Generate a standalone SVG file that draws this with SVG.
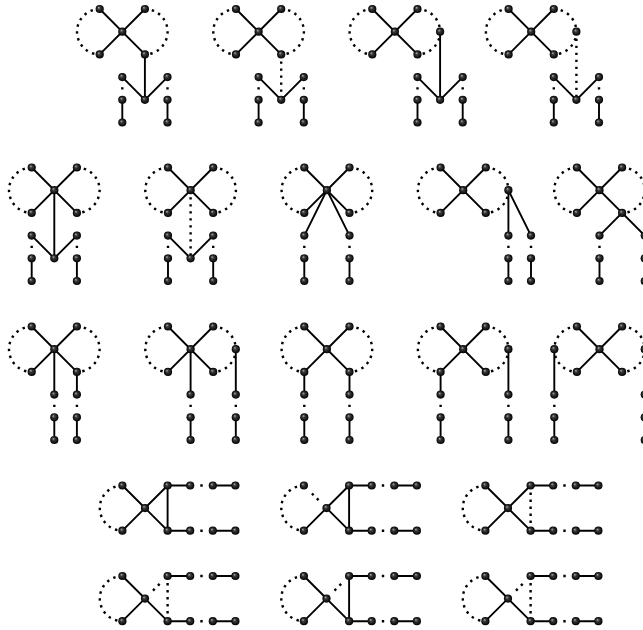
<svg xmlns="http://www.w3.org/2000/svg" width="643" height="630" viewBox="0 0 643 630">
<style>
.e{stroke:#000;stroke-width:1.9;fill:none}
.d{stroke:#000;stroke-width:2.4;stroke-dasharray:2.4 4.6;fill:none}
.ds{stroke:#000;stroke-width:2.4;stroke-dasharray:2.4 60;stroke-dashoffset:-10.1;fill:none}
.dg{stroke:#000;stroke-width:2.4;stroke-dasharray:2.4 4.6 2.4 60;stroke-dashoffset:-11.3;fill:none}
.n{fill:url(#ball)}
</style>
<defs>
<radialGradient id="ball" cx="0.5" cy="0.5" r="0.5" fx="0.36" fy="0.32">
<stop offset="0" stop-color="#b0b0b0"/>
<stop offset="0.35" stop-color="#3a3a3a"/>
<stop offset="1" stop-color="#000"/>
</radialGradient>
</defs>
<rect width="643" height="630" fill="#fff"/>

<!-- Row 1 Panel 1 -->
<g id="r1p1" transform="translate(122.3,31.7)">
<g id="r1p1-connectors">
<path class="d" d="M-22.6,-22.7 A22.7,22.7 0 0 0 -22.6,22.7"/>
<path class="d" d="M22.6,-22.7 A22.7,22.7 0 0 1 22.6,22.7"/>
<path class="e" d="M-22.6,-22.7 L22.6,22.7 M22.6,-22.7 L-22.6,22.7"/>
<path class="e" d="M22.6,22.7 V68.1 M0,45.4 L22.6,68.1 L45.2,45.4 M0,68.1 V90.8 M45.2,68.1 V90.8"/>
<path class="ds" d="M0,45.4 V68.1 M45.2,45.4 V68.1"/>
</g>
<g id="r1p1-c"><circle class="n" cx="0" cy="0" r="4.1"/></g>
<g id="r1p1-tl"><circle class="n" cx="-22.6" cy="-22.7" r="4.1"/></g>
<g id="r1p1-tr"><circle class="n" cx="22.6" cy="-22.7" r="4.1"/></g>
<g id="r1p1-bl"><circle class="n" cx="-22.6" cy="22.7" r="4.1"/></g>
<g id="r1p1-br"><circle class="n" cx="22.6" cy="22.7" r="4.1"/></g>
<g id="r1p1-m"><circle class="n" cx="22.6" cy="68.1" r="4.1"/></g>
<g id="r1p1-l1"><circle class="n" cx="0" cy="45.4" r="4.1"/></g>
<g id="r1p1-l2"><circle class="n" cx="0" cy="68.1" r="4.1"/></g>
<g id="r1p1-l3"><circle class="n" cx="0" cy="90.8" r="4.1"/></g>
<g id="r1p1-r1"><circle class="n" cx="45.2" cy="45.4" r="4.1"/></g>
<g id="r1p1-r2"><circle class="n" cx="45.2" cy="68.1" r="4.1"/></g>
<g id="r1p1-r3"><circle class="n" cx="45.2" cy="90.8" r="4.1"/></g>
</g>

<!-- Row 1 Panel 2 -->
<g id="r1p2" transform="translate(258.6,31.7)">
<g id="r1p2-connectors">
<path class="d" d="M-22.6,-22.7 A22.7,22.7 0 0 0 -22.6,22.7"/>
<path class="d" d="M22.6,-22.7 A22.7,22.7 0 0 1 22.6,22.7"/>
<path class="e" d="M-22.6,-22.7 L22.6,22.7 M22.6,-22.7 L-22.6,22.7"/>
<path class="d" d="M22.6,22.7 V68.1"/>
<path class="e" d="M0,45.4 L22.6,68.1 L45.2,45.4 M0,68.1 V90.8 M45.2,68.1 V90.8"/>
<path class="ds" d="M0,45.4 V68.1 M45.2,45.4 V68.1"/>
</g>
<g id="r1p2-c"><circle class="n" cx="0" cy="0" r="4.1"/></g>
<g id="r1p2-tl"><circle class="n" cx="-22.6" cy="-22.7" r="4.1"/></g>
<g id="r1p2-tr"><circle class="n" cx="22.6" cy="-22.7" r="4.1"/></g>
<g id="r1p2-bl"><circle class="n" cx="-22.6" cy="22.7" r="4.1"/></g>
<g id="r1p2-br"><circle class="n" cx="22.6" cy="22.7" r="4.1"/></g>
<g id="r1p2-m"><circle class="n" cx="22.6" cy="68.1" r="4.1"/></g>
<g id="r1p2-l1"><circle class="n" cx="0" cy="45.4" r="4.1"/></g>
<g id="r1p2-l2"><circle class="n" cx="0" cy="68.1" r="4.1"/></g>
<g id="r1p2-l3"><circle class="n" cx="0" cy="90.8" r="4.1"/></g>
<g id="r1p2-r1"><circle class="n" cx="45.2" cy="45.4" r="4.1"/></g>
<g id="r1p2-r2"><circle class="n" cx="45.2" cy="68.1" r="4.1"/></g>
<g id="r1p2-r3"><circle class="n" cx="45.2" cy="90.8" r="4.1"/></g>
</g>

<!-- Row 1 Panel 3 -->
<g id="r1p3" transform="translate(394.9,31.7)">
<g id="r1p3-connectors">
<path class="d" d="M-22.6,-22.7 A22.7,22.7 0 0 0 -22.6,22.7"/>
<path class="d" d="M22.6,-22.7 A22.7,22.7 0 0 1 45.2,0 A22.7,22.7 0 0 1 22.6,22.7"/>
<path class="e" d="M-22.6,-22.7 L22.6,22.7 M22.6,-22.7 L-22.6,22.7"/>
<path class="e" d="M45.2,0 V68.1 M22.6,45.4 L45.2,68.1 L67.8,45.4 M22.6,68.1 V90.8 M67.8,68.1 V90.8"/>
<path class="ds" d="M22.6,45.4 V68.1 M67.8,45.4 V68.1"/>
</g>
<g id="r1p3-c"><circle class="n" cx="0" cy="0" r="4.1"/></g>
<g id="r1p3-tl"><circle class="n" cx="-22.6" cy="-22.7" r="4.1"/></g>
<g id="r1p3-tr"><circle class="n" cx="22.6" cy="-22.7" r="4.1"/></g>
<g id="r1p3-bl"><circle class="n" cx="-22.6" cy="22.7" r="4.1"/></g>
<g id="r1p3-br"><circle class="n" cx="22.6" cy="22.7" r="4.1"/></g>
<g id="r1p3-x"><circle class="n" cx="45.2" cy="0" r="4.1"/></g>
<g id="r1p3-m"><circle class="n" cx="45.2" cy="68.1" r="4.1"/></g>
<g id="r1p3-l1"><circle class="n" cx="22.6" cy="45.4" r="4.1"/></g>
<g id="r1p3-l2"><circle class="n" cx="22.6" cy="68.1" r="4.1"/></g>
<g id="r1p3-l3"><circle class="n" cx="22.6" cy="90.8" r="4.1"/></g>
<g id="r1p3-r1"><circle class="n" cx="67.8" cy="45.4" r="4.1"/></g>
<g id="r1p3-r2"><circle class="n" cx="67.8" cy="68.1" r="4.1"/></g>
<g id="r1p3-r3"><circle class="n" cx="67.8" cy="90.8" r="4.1"/></g>
</g>

<!-- Row 1 Panel 4 -->
<g id="r1p4" transform="translate(531.2,31.7)">
<g id="r1p4-connectors">
<path class="d" d="M-22.6,-22.7 A22.7,22.7 0 0 0 -22.6,22.7"/>
<path class="d" d="M22.6,-22.7 A22.7,22.7 0 0 1 45.2,0 A22.7,22.7 0 0 1 22.6,22.7"/>
<path class="e" d="M-22.6,-22.7 L22.6,22.7 M22.6,-22.7 L-22.6,22.7"/>
<path class="d" d="M45.2,0 V68.1"/>
<path class="e" d="M22.6,45.4 L45.2,68.1 L67.8,45.4 M22.6,68.1 V90.8 M67.8,68.1 V90.8"/>
<path class="ds" d="M22.6,45.4 V68.1 M67.8,45.4 V68.1"/>
</g>
<g id="r1p4-c"><circle class="n" cx="0" cy="0" r="4.1"/></g>
<g id="r1p4-tl"><circle class="n" cx="-22.6" cy="-22.7" r="4.1"/></g>
<g id="r1p4-tr"><circle class="n" cx="22.6" cy="-22.7" r="4.1"/></g>
<g id="r1p4-bl"><circle class="n" cx="-22.6" cy="22.7" r="4.1"/></g>
<g id="r1p4-br"><circle class="n" cx="22.6" cy="22.7" r="4.1"/></g>
<g id="r1p4-x"><circle class="n" cx="45.2" cy="0" r="4.1"/></g>
<g id="r1p4-m"><circle class="n" cx="45.2" cy="68.1" r="4.1"/></g>
<g id="r1p4-l1"><circle class="n" cx="22.6" cy="45.4" r="4.1"/></g>
<g id="r1p4-l2"><circle class="n" cx="22.6" cy="68.1" r="4.1"/></g>
<g id="r1p4-l3"><circle class="n" cx="22.6" cy="90.8" r="4.1"/></g>
<g id="r1p4-r1"><circle class="n" cx="67.8" cy="45.4" r="4.1"/></g>
<g id="r1p4-r2"><circle class="n" cx="67.8" cy="68.1" r="4.1"/></g>
<g id="r1p4-r3"><circle class="n" cx="67.8" cy="90.8" r="4.1"/></g>
</g>

<!-- Row 2 Panel 1 -->
<g id="r2p1" transform="translate(54.3,190.2)">
<g id="r2p1-connectors">
<path class="d" d="M-22.6,-22.7 A22.7,22.7 0 0 0 -22.6,22.7"/>
<path class="d" d="M22.6,-22.7 A22.7,22.7 0 0 1 22.6,22.7"/>
<path class="e" d="M-22.6,-22.7 L22.6,22.7 M22.6,-22.7 L-22.6,22.7"/>
<path class="e" d="M0,0 V68.1 M-22.6,45.4 L0,68.1 L22.6,45.4 M-22.6,68.1 V90.8 M22.6,68.1 V90.8"/>
<path class="ds" d="M-22.6,45.4 V68.1 M22.6,45.4 V68.1"/>
</g>
<g id="r2p1-c"><circle class="n" cx="0" cy="0" r="4.1"/></g>
<g id="r2p1-tl"><circle class="n" cx="-22.6" cy="-22.7" r="4.1"/></g>
<g id="r2p1-tr"><circle class="n" cx="22.6" cy="-22.7" r="4.1"/></g>
<g id="r2p1-bl"><circle class="n" cx="-22.6" cy="22.7" r="4.1"/></g>
<g id="r2p1-br"><circle class="n" cx="22.6" cy="22.7" r="4.1"/></g>
<g id="r2p1-m"><circle class="n" cx="0" cy="68.1" r="4.1"/></g>
<g id="r2p1-l1"><circle class="n" cx="-22.6" cy="45.4" r="4.1"/></g>
<g id="r2p1-l2"><circle class="n" cx="-22.6" cy="68.1" r="4.1"/></g>
<g id="r2p1-l3"><circle class="n" cx="-22.6" cy="90.8" r="4.1"/></g>
<g id="r2p1-r1"><circle class="n" cx="22.6" cy="45.4" r="4.1"/></g>
<g id="r2p1-r2"><circle class="n" cx="22.6" cy="68.1" r="4.1"/></g>
<g id="r2p1-r3"><circle class="n" cx="22.6" cy="90.8" r="4.1"/></g>
</g>

<!-- Row 2 Panel 2 -->
<g id="r2p2" transform="translate(190.6,190.2)">
<g id="r2p2-connectors">
<path class="d" d="M-22.6,-22.7 A22.7,22.7 0 0 0 -22.6,22.7"/>
<path class="d" d="M22.6,-22.7 A22.7,22.7 0 0 1 22.6,22.7"/>
<path class="e" d="M-22.6,-22.7 L22.6,22.7 M22.6,-22.7 L-22.6,22.7"/>
<path class="d" d="M0,0 V68.1"/>
<path class="e" d="M-22.6,45.4 L0,68.1 L22.6,45.4 M-22.6,68.1 V90.8 M22.6,68.1 V90.8"/>
<path class="ds" d="M-22.6,45.4 V68.1 M22.6,45.4 V68.1"/>
</g>
<g id="r2p2-c"><circle class="n" cx="0" cy="0" r="4.1"/></g>
<g id="r2p2-tl"><circle class="n" cx="-22.6" cy="-22.7" r="4.1"/></g>
<g id="r2p2-tr"><circle class="n" cx="22.6" cy="-22.7" r="4.1"/></g>
<g id="r2p2-bl"><circle class="n" cx="-22.6" cy="22.7" r="4.1"/></g>
<g id="r2p2-br"><circle class="n" cx="22.6" cy="22.7" r="4.1"/></g>
<g id="r2p2-m"><circle class="n" cx="0" cy="68.1" r="4.1"/></g>
<g id="r2p2-l1"><circle class="n" cx="-22.6" cy="45.4" r="4.1"/></g>
<g id="r2p2-l2"><circle class="n" cx="-22.6" cy="68.1" r="4.1"/></g>
<g id="r2p2-l3"><circle class="n" cx="-22.6" cy="90.8" r="4.1"/></g>
<g id="r2p2-r1"><circle class="n" cx="22.6" cy="45.4" r="4.1"/></g>
<g id="r2p2-r2"><circle class="n" cx="22.6" cy="68.1" r="4.1"/></g>
<g id="r2p2-r3"><circle class="n" cx="22.6" cy="90.8" r="4.1"/></g>
</g>

<!-- Row 2 Panel 3 -->
<g id="r2p3" transform="translate(326.9,190.2)">
<g id="r2p3-connectors">
<path class="d" d="M-22.6,-22.7 A22.7,22.7 0 0 0 -22.6,22.7"/>
<path class="d" d="M22.6,-22.7 A22.7,22.7 0 0 1 22.6,22.7"/>
<path class="e" d="M-22.6,-22.7 L22.6,22.7 M22.6,-22.7 L-22.6,22.7"/>
<path class="e" d="M-22.6,45.4 L0,0 L22.6,45.4 M-22.6,68.1 V90.8 M22.6,68.1 V90.8"/>
<path class="ds" d="M-22.6,45.4 V68.1 M22.6,45.4 V68.1"/>
</g>
<g id="r2p3-c"><circle class="n" cx="0" cy="0" r="4.1"/></g>
<g id="r2p3-tl"><circle class="n" cx="-22.6" cy="-22.7" r="4.1"/></g>
<g id="r2p3-tr"><circle class="n" cx="22.6" cy="-22.7" r="4.1"/></g>
<g id="r2p3-bl"><circle class="n" cx="-22.6" cy="22.7" r="4.1"/></g>
<g id="r2p3-br"><circle class="n" cx="22.6" cy="22.7" r="4.1"/></g>
<g id="r2p3-l1"><circle class="n" cx="-22.6" cy="45.4" r="4.1"/></g>
<g id="r2p3-l2"><circle class="n" cx="-22.6" cy="68.1" r="4.1"/></g>
<g id="r2p3-l3"><circle class="n" cx="-22.6" cy="90.8" r="4.1"/></g>
<g id="r2p3-r1"><circle class="n" cx="22.6" cy="45.4" r="4.1"/></g>
<g id="r2p3-r2"><circle class="n" cx="22.6" cy="68.1" r="4.1"/></g>
<g id="r2p3-r3"><circle class="n" cx="22.6" cy="90.8" r="4.1"/></g>
</g>

<!-- Row 2 Panel 4 -->
<g id="r2p4" transform="translate(463.2,190.2)">
<g id="r2p4-connectors">
<path class="d" d="M-22.6,-22.7 A22.7,22.7 0 0 0 -22.6,22.7"/>
<path class="d" d="M22.6,-22.7 A22.7,22.7 0 0 1 45.2,0 A22.7,22.7 0 0 1 22.6,22.7"/>
<path class="e" d="M-22.6,-22.7 L22.6,22.7 M22.6,-22.7 L-22.6,22.7"/>
<path class="e" d="M45.2,45.4 V0 L67.8,45.4 M45.2,68.1 V90.8 M67.8,68.1 V90.8"/>
<path class="ds" d="M45.2,45.4 V68.1 M67.8,45.4 V68.1"/>
</g>
<g id="r2p4-c"><circle class="n" cx="0" cy="0" r="4.1"/></g>
<g id="r2p4-tl"><circle class="n" cx="-22.6" cy="-22.7" r="4.1"/></g>
<g id="r2p4-tr"><circle class="n" cx="22.6" cy="-22.7" r="4.1"/></g>
<g id="r2p4-bl"><circle class="n" cx="-22.6" cy="22.7" r="4.1"/></g>
<g id="r2p4-br"><circle class="n" cx="22.6" cy="22.7" r="4.1"/></g>
<g id="r2p4-x"><circle class="n" cx="45.2" cy="0" r="4.1"/></g>
<g id="r2p4-l1"><circle class="n" cx="45.2" cy="45.4" r="4.1"/></g>
<g id="r2p4-l2"><circle class="n" cx="45.2" cy="68.1" r="4.1"/></g>
<g id="r2p4-l3"><circle class="n" cx="45.2" cy="90.8" r="4.1"/></g>
<g id="r2p4-r1"><circle class="n" cx="67.8" cy="45.4" r="4.1"/></g>
<g id="r2p4-r2"><circle class="n" cx="67.8" cy="68.1" r="4.1"/></g>
<g id="r2p4-r3"><circle class="n" cx="67.8" cy="90.8" r="4.1"/></g>
</g>

<!-- Row 2 Panel 5 -->
<g id="r2p5" transform="translate(599.5,190.2)">
<g id="r2p5-connectors">
<path class="d" d="M-22.6,-22.7 A22.7,22.7 0 0 0 -22.6,22.7"/>
<path class="d" d="M22.6,-22.7 A22.7,22.7 0 0 1 22.6,22.7"/>
<path class="e" d="M-22.6,-22.7 L22.6,22.7 M22.6,-22.7 L-22.6,22.7"/>
<path class="e" d="M0,45.4 L22.6,22.7 L45.2,45.4 M0,68.1 V90.8 M45.2,68.1 V90.8"/>
<path class="ds" d="M0,45.4 V68.1 M45.2,45.4 V68.1"/>
</g>
<g id="r2p5-c"><circle class="n" cx="0" cy="0" r="4.1"/></g>
<g id="r2p5-tl"><circle class="n" cx="-22.6" cy="-22.7" r="4.1"/></g>
<g id="r2p5-tr"><circle class="n" cx="22.6" cy="-22.7" r="4.1"/></g>
<g id="r2p5-bl"><circle class="n" cx="-22.6" cy="22.7" r="4.1"/></g>
<g id="r2p5-br"><circle class="n" cx="22.6" cy="22.7" r="4.1"/></g>
<g id="r2p5-l1"><circle class="n" cx="0" cy="45.4" r="4.1"/></g>
<g id="r2p5-l2"><circle class="n" cx="0" cy="68.1" r="4.1"/></g>
<g id="r2p5-l3"><circle class="n" cx="0" cy="90.8" r="4.1"/></g>
<g id="r2p5-r1"><circle class="n" cx="45.2" cy="45.4" r="4.1"/></g>
<g id="r2p5-r2"><circle class="n" cx="45.2" cy="68.1" r="4.1"/></g>
<g id="r2p5-r3"><circle class="n" cx="45.2" cy="90.8" r="4.1"/></g>
</g>

<!-- Row 3 Panel 1 -->
<g id="r3p1" transform="translate(54.3,349.2)">
<g id="r3p1-connectors">
<path class="d" d="M-22.6,-22.7 A22.7,22.7 0 0 0 -22.6,22.7"/>
<path class="d" d="M22.6,-22.7 A22.7,22.7 0 0 1 22.6,22.7"/>
<path class="e" d="M-22.6,-22.7 L22.6,22.7 M22.6,-22.7 L-22.6,22.7"/>
<path class="e" d="M0,0 V45.4 M22.6,22.7 V45.4 M0,68.1 V90.8 M22.6,68.1 V90.8"/>
<path class="ds" d="M0,45.4 V68.1 M22.6,45.4 V68.1"/>
</g>
<g id="r3p1-c"><circle class="n" cx="0" cy="0" r="4.1"/></g>
<g id="r3p1-tl"><circle class="n" cx="-22.6" cy="-22.7" r="4.1"/></g>
<g id="r3p1-tr"><circle class="n" cx="22.6" cy="-22.7" r="4.1"/></g>
<g id="r3p1-bl"><circle class="n" cx="-22.6" cy="22.7" r="4.1"/></g>
<g id="r3p1-br"><circle class="n" cx="22.6" cy="22.7" r="4.1"/></g>
<g id="r3p1-l1"><circle class="n" cx="0" cy="45.4" r="4.1"/></g>
<g id="r3p1-l2"><circle class="n" cx="0" cy="68.1" r="4.1"/></g>
<g id="r3p1-l3"><circle class="n" cx="0" cy="90.8" r="4.1"/></g>
<g id="r3p1-r1"><circle class="n" cx="22.6" cy="45.4" r="4.1"/></g>
<g id="r3p1-r2"><circle class="n" cx="22.6" cy="68.1" r="4.1"/></g>
<g id="r3p1-r3"><circle class="n" cx="22.6" cy="90.8" r="4.1"/></g>
</g>

<!-- Row 3 Panel 2 -->
<g id="r3p2" transform="translate(190.6,349.2)">
<g id="r3p2-connectors">
<path class="d" d="M-22.6,-22.7 A22.7,22.7 0 0 0 -22.6,22.7"/>
<path class="d" d="M22.6,-22.7 A22.7,22.7 0 0 1 45.2,0 A22.7,22.7 0 0 1 22.6,22.7"/>
<path class="e" d="M-22.6,-22.7 L22.6,22.7 M22.6,-22.7 L-22.6,22.7"/>
<path class="e" d="M0,0 V45.4 M45.2,0 V45.4 M0,68.1 V90.8 M45.2,68.1 V90.8"/>
<path class="ds" d="M0,45.4 V68.1 M45.2,45.4 V68.1"/>
</g>
<g id="r3p2-c"><circle class="n" cx="0" cy="0" r="4.1"/></g>
<g id="r3p2-tl"><circle class="n" cx="-22.6" cy="-22.7" r="4.1"/></g>
<g id="r3p2-tr"><circle class="n" cx="22.6" cy="-22.7" r="4.1"/></g>
<g id="r3p2-bl"><circle class="n" cx="-22.6" cy="22.7" r="4.1"/></g>
<g id="r3p2-br"><circle class="n" cx="22.6" cy="22.7" r="4.1"/></g>
<g id="r3p2-x"><circle class="n" cx="45.2" cy="0" r="4.1"/></g>
<g id="r3p2-l1"><circle class="n" cx="0" cy="45.4" r="4.1"/></g>
<g id="r3p2-l2"><circle class="n" cx="0" cy="68.1" r="4.1"/></g>
<g id="r3p2-l3"><circle class="n" cx="0" cy="90.8" r="4.1"/></g>
<g id="r3p2-r1"><circle class="n" cx="45.2" cy="45.4" r="4.1"/></g>
<g id="r3p2-r2"><circle class="n" cx="45.2" cy="68.1" r="4.1"/></g>
<g id="r3p2-r3"><circle class="n" cx="45.2" cy="90.8" r="4.1"/></g>
</g>

<!-- Row 3 Panel 3 -->
<g id="r3p3" transform="translate(326.9,349.2)">
<g id="r3p3-connectors">
<path class="d" d="M-22.6,-22.7 A22.7,22.7 0 0 0 -22.6,22.7"/>
<path class="d" d="M22.6,-22.7 A22.7,22.7 0 0 1 22.6,22.7"/>
<path class="e" d="M-22.6,-22.7 L22.6,22.7 M22.6,-22.7 L-22.6,22.7"/>
<path class="e" d="M-22.6,22.7 V45.4 M22.6,22.7 V45.4 M-22.6,68.1 V90.8 M22.6,68.1 V90.8"/>
<path class="ds" d="M-22.6,45.4 V68.1 M22.6,45.4 V68.1"/>
</g>
<g id="r3p3-c"><circle class="n" cx="0" cy="0" r="4.1"/></g>
<g id="r3p3-tl"><circle class="n" cx="-22.6" cy="-22.7" r="4.1"/></g>
<g id="r3p3-tr"><circle class="n" cx="22.6" cy="-22.7" r="4.1"/></g>
<g id="r3p3-bl"><circle class="n" cx="-22.6" cy="22.7" r="4.1"/></g>
<g id="r3p3-br"><circle class="n" cx="22.6" cy="22.7" r="4.1"/></g>
<g id="r3p3-l1"><circle class="n" cx="-22.6" cy="45.4" r="4.1"/></g>
<g id="r3p3-l2"><circle class="n" cx="-22.6" cy="68.1" r="4.1"/></g>
<g id="r3p3-l3"><circle class="n" cx="-22.6" cy="90.8" r="4.1"/></g>
<g id="r3p3-r1"><circle class="n" cx="22.6" cy="45.4" r="4.1"/></g>
<g id="r3p3-r2"><circle class="n" cx="22.6" cy="68.1" r="4.1"/></g>
<g id="r3p3-r3"><circle class="n" cx="22.6" cy="90.8" r="4.1"/></g>
</g>

<!-- Row 3 Panel 4 -->
<g id="r3p4" transform="translate(463.2,349.2)">
<g id="r3p4-connectors">
<path class="d" d="M-22.6,-22.7 A22.7,22.7 0 0 0 -22.6,22.7"/>
<path class="d" d="M22.6,-22.7 A22.7,22.7 0 0 1 45.2,0 A22.7,22.7 0 0 1 22.6,22.7"/>
<path class="e" d="M-22.6,-22.7 L22.6,22.7 M22.6,-22.7 L-22.6,22.7"/>
<path class="e" d="M-22.6,22.7 V45.4 M45.2,0 V45.4 M-22.6,68.1 V90.8 M45.2,68.1 V90.8"/>
<path class="ds" d="M-22.6,45.4 V68.1 M45.2,45.4 V68.1"/>
</g>
<g id="r3p4-c"><circle class="n" cx="0" cy="0" r="4.1"/></g>
<g id="r3p4-tl"><circle class="n" cx="-22.6" cy="-22.7" r="4.1"/></g>
<g id="r3p4-tr"><circle class="n" cx="22.6" cy="-22.7" r="4.1"/></g>
<g id="r3p4-bl"><circle class="n" cx="-22.6" cy="22.7" r="4.1"/></g>
<g id="r3p4-br"><circle class="n" cx="22.6" cy="22.7" r="4.1"/></g>
<g id="r3p4-x"><circle class="n" cx="45.2" cy="0" r="4.1"/></g>
<g id="r3p4-l1"><circle class="n" cx="-22.6" cy="45.4" r="4.1"/></g>
<g id="r3p4-l2"><circle class="n" cx="-22.6" cy="68.1" r="4.1"/></g>
<g id="r3p4-l3"><circle class="n" cx="-22.6" cy="90.8" r="4.1"/></g>
<g id="r3p4-r1"><circle class="n" cx="45.2" cy="45.4" r="4.1"/></g>
<g id="r3p4-r2"><circle class="n" cx="45.2" cy="68.1" r="4.1"/></g>
<g id="r3p4-r3"><circle class="n" cx="45.2" cy="90.8" r="4.1"/></g>
</g>

<!-- Row 3 Panel 5 -->
<g id="r3p5" transform="translate(599.5,349.2)">
<g id="r3p5-connectors">
<path class="d" d="M-22.6,-22.7 A22.7,22.7 0 0 0 -45.2,0 A22.7,22.7 0 0 0 -22.6,22.7"/>
<path class="d" d="M22.6,-22.7 A22.7,22.7 0 0 1 45.2,0 A22.7,22.7 0 0 1 22.6,22.7"/>
<path class="e" d="M-22.6,-22.7 L22.6,22.7 M22.6,-22.7 L-22.6,22.7"/>
<path class="e" d="M-45.2,0 V45.4 M45.2,0 V45.4 M-45.2,68.1 V90.8 M45.2,68.1 V90.8"/>
<path class="ds" d="M-45.2,45.4 V68.1 M45.2,45.4 V68.1"/>
</g>
<g id="r3p5-c"><circle class="n" cx="0" cy="0" r="4.1"/></g>
<g id="r3p5-tl"><circle class="n" cx="-22.6" cy="-22.7" r="4.1"/></g>
<g id="r3p5-tr"><circle class="n" cx="22.6" cy="-22.7" r="4.1"/></g>
<g id="r3p5-bl"><circle class="n" cx="-22.6" cy="22.7" r="4.1"/></g>
<g id="r3p5-br"><circle class="n" cx="22.6" cy="22.7" r="4.1"/></g>
<g id="r3p5-xl"><circle class="n" cx="-45.2" cy="0" r="4.1"/></g>
<g id="r3p5-xr"><circle class="n" cx="45.2" cy="0" r="4.1"/></g>
<g id="r3p5-l1"><circle class="n" cx="-45.2" cy="45.4" r="4.1"/></g>
<g id="r3p5-l2"><circle class="n" cx="-45.2" cy="68.1" r="4.1"/></g>
<g id="r3p5-l3"><circle class="n" cx="-45.2" cy="90.8" r="4.1"/></g>
<g id="r3p5-r1"><circle class="n" cx="45.2" cy="45.4" r="4.1"/></g>
<g id="r3p5-r2"><circle class="n" cx="45.2" cy="68.1" r="4.1"/></g>
<g id="r3p5-r3"><circle class="n" cx="45.2" cy="90.8" r="4.1"/></g>
</g>

<!-- Row 4 Panel 1 -->
<g id="r4p1" transform="translate(145,508.1)">
<g id="r4p1-connectors">
<path class="d" d="M-22.6,-22.6 A22.6,22.6 0 0 0 -22.6,22.6"/>
<path class="e" d="M-22.6,-22.6 L0,0 L-22.6,22.6 M22.6,-22.6 L0,0 L22.6,22.6 M22.6,-22.6 V22.6"/>
<path class="e" d="M22.6,-22.6 H45.2 M22.6,22.6 H45.2"/>
<path class="ds" d="M45.2,-22.6 H67.8 M45.2,22.6 H67.8"/>
<path class="e" d="M67.8,-22.6 H90.4 M67.8,22.6 H90.4"/>
</g>
<g id="r4p1-c"><circle class="n" cx="0" cy="0" r="4.1"/></g>
<g id="r4p1-tl"><circle class="n" cx="-22.6" cy="-22.6" r="4.1"/></g>
<g id="r4p1-bl"><circle class="n" cx="-22.6" cy="22.6" r="4.1"/></g>
<g id="r4p1-t1"><circle class="n" cx="22.6" cy="-22.6" r="4.1"/></g>
<g id="r4p1-t2"><circle class="n" cx="45.2" cy="-22.6" r="4.1"/></g>
<g id="r4p1-t3"><circle class="n" cx="67.8" cy="-22.6" r="4.1"/></g>
<g id="r4p1-t4"><circle class="n" cx="90.4" cy="-22.6" r="4.1"/></g>
<g id="r4p1-b1"><circle class="n" cx="22.6" cy="22.6" r="4.1"/></g>
<g id="r4p1-b2"><circle class="n" cx="45.2" cy="22.6" r="4.1"/></g>
<g id="r4p1-b3"><circle class="n" cx="67.8" cy="22.6" r="4.1"/></g>
<g id="r4p1-b4"><circle class="n" cx="90.4" cy="22.6" r="4.1"/></g>
</g>

<!-- Row 4 Panel 2 -->
<g id="r4p2" transform="translate(326.5,508.1)">
<g id="r4p2-connectors">
<path class="d" d="M-22.6,-22.6 A22.6,22.6 0 0 0 -22.6,22.6"/>
<path class="dg" d="M-22.6,-22.6 L0,0"/>
<path class="e" d="M0,0 L-22.6,22.6 M22.6,-22.6 L0,0 L22.6,22.6 M22.6,-22.6 V22.6"/>
<path class="e" d="M22.6,-22.6 H45.2 M22.6,22.6 H45.2"/>
<path class="ds" d="M45.2,-22.6 H67.8 M45.2,22.6 H67.8"/>
<path class="e" d="M67.8,-22.6 H90.4 M67.8,22.6 H90.4"/>
</g>
<g id="r4p2-c"><circle class="n" cx="0" cy="0" r="4.1"/></g>
<g id="r4p2-tl"><circle class="n" cx="-22.6" cy="-22.6" r="4.1"/></g>
<g id="r4p2-bl"><circle class="n" cx="-22.6" cy="22.6" r="4.1"/></g>
<g id="r4p2-t1"><circle class="n" cx="22.6" cy="-22.6" r="4.1"/></g>
<g id="r4p2-t2"><circle class="n" cx="45.2" cy="-22.6" r="4.1"/></g>
<g id="r4p2-t3"><circle class="n" cx="67.8" cy="-22.6" r="4.1"/></g>
<g id="r4p2-t4"><circle class="n" cx="90.4" cy="-22.6" r="4.1"/></g>
<g id="r4p2-b1"><circle class="n" cx="22.6" cy="22.6" r="4.1"/></g>
<g id="r4p2-b2"><circle class="n" cx="45.2" cy="22.6" r="4.1"/></g>
<g id="r4p2-b3"><circle class="n" cx="67.8" cy="22.6" r="4.1"/></g>
<g id="r4p2-b4"><circle class="n" cx="90.4" cy="22.6" r="4.1"/></g>
</g>

<!-- Row 4 Panel 3 -->
<g id="r4p3" transform="translate(508,508.1)">
<g id="r4p3-connectors">
<path class="d" d="M-22.6,-22.6 A22.6,22.6 0 0 0 -22.6,22.6"/>
<path class="e" d="M-22.6,-22.6 L0,0 L-22.6,22.6 M22.6,-22.6 L0,0 L22.6,22.6"/>
<path class="d" d="M22.6,-22.6 V22.6"/>
<path class="e" d="M22.6,-22.6 H45.2 M22.6,22.6 H45.2"/>
<path class="ds" d="M45.2,-22.6 H67.8 M45.2,22.6 H67.8"/>
<path class="e" d="M67.8,-22.6 H90.4 M67.8,22.6 H90.4"/>
</g>
<g id="r4p3-c"><circle class="n" cx="0" cy="0" r="4.1"/></g>
<g id="r4p3-tl"><circle class="n" cx="-22.6" cy="-22.6" r="4.1"/></g>
<g id="r4p3-bl"><circle class="n" cx="-22.6" cy="22.6" r="4.1"/></g>
<g id="r4p3-t1"><circle class="n" cx="22.6" cy="-22.6" r="4.1"/></g>
<g id="r4p3-t2"><circle class="n" cx="45.2" cy="-22.6" r="4.1"/></g>
<g id="r4p3-t3"><circle class="n" cx="67.8" cy="-22.6" r="4.1"/></g>
<g id="r4p3-t4"><circle class="n" cx="90.4" cy="-22.6" r="4.1"/></g>
<g id="r4p3-b1"><circle class="n" cx="22.6" cy="22.6" r="4.1"/></g>
<g id="r4p3-b2"><circle class="n" cx="45.2" cy="22.6" r="4.1"/></g>
<g id="r4p3-b3"><circle class="n" cx="67.8" cy="22.6" r="4.1"/></g>
<g id="r4p3-b4"><circle class="n" cx="90.4" cy="22.6" r="4.1"/></g>
</g>

<!-- Row 5 Panel 1 -->
<g id="r5p1" transform="translate(145,598.6)">
<g id="r5p1-connectors">
<path class="d" d="M-22.6,-22.6 A22.6,22.6 0 0 0 -22.6,22.6"/>
<path class="e" d="M-22.6,-22.6 L0,0 L-22.6,22.6 M0,0 L22.6,22.6"/>
<path class="d" d="M22.6,-22.6 V22.6"/>
<path class="dg" d="M0,0 L22.6,-22.6"/>
<path class="e" d="M22.6,-22.6 H45.2 M22.6,22.6 H45.2"/>
<path class="ds" d="M45.2,-22.6 H67.8 M45.2,22.6 H67.8"/>
<path class="e" d="M67.8,-22.6 H90.4 M67.8,22.6 H90.4"/>
</g>
<g id="r5p1-c"><circle class="n" cx="0" cy="0" r="4.1"/></g>
<g id="r5p1-tl"><circle class="n" cx="-22.6" cy="-22.6" r="4.1"/></g>
<g id="r5p1-bl"><circle class="n" cx="-22.6" cy="22.6" r="4.1"/></g>
<g id="r5p1-t1"><circle class="n" cx="22.6" cy="-22.6" r="4.1"/></g>
<g id="r5p1-t2"><circle class="n" cx="45.2" cy="-22.6" r="4.1"/></g>
<g id="r5p1-t3"><circle class="n" cx="67.8" cy="-22.6" r="4.1"/></g>
<g id="r5p1-t4"><circle class="n" cx="90.4" cy="-22.6" r="4.1"/></g>
<g id="r5p1-b1"><circle class="n" cx="22.6" cy="22.6" r="4.1"/></g>
<g id="r5p1-b2"><circle class="n" cx="45.2" cy="22.6" r="4.1"/></g>
<g id="r5p1-b3"><circle class="n" cx="67.8" cy="22.6" r="4.1"/></g>
<g id="r5p1-b4"><circle class="n" cx="90.4" cy="22.6" r="4.1"/></g>
</g>

<!-- Row 5 Panel 2 -->
<g id="r5p2" transform="translate(326.5,598.6)">
<g id="r5p2-connectors">
<path class="d" d="M-22.6,-22.6 A22.6,22.6 0 0 0 -22.6,22.6"/>
<path class="e" d="M-22.6,-22.6 L0,0 L-22.6,22.6 M0,0 L22.6,22.6 M22.6,-22.6 V22.6"/>
<path class="dg" d="M0,0 L22.6,-22.6"/>
<path class="e" d="M22.6,-22.6 H45.2 M22.6,22.6 H45.2"/>
<path class="ds" d="M45.2,-22.6 H67.8 M45.2,22.6 H67.8"/>
<path class="e" d="M67.8,-22.6 H90.4 M67.8,22.6 H90.4"/>
</g>
<g id="r5p2-c"><circle class="n" cx="0" cy="0" r="4.1"/></g>
<g id="r5p2-tl"><circle class="n" cx="-22.6" cy="-22.6" r="4.1"/></g>
<g id="r5p2-bl"><circle class="n" cx="-22.6" cy="22.6" r="4.1"/></g>
<g id="r5p2-t1"><circle class="n" cx="22.6" cy="-22.6" r="4.1"/></g>
<g id="r5p2-t2"><circle class="n" cx="45.2" cy="-22.6" r="4.1"/></g>
<g id="r5p2-t3"><circle class="n" cx="67.8" cy="-22.6" r="4.1"/></g>
<g id="r5p2-t4"><circle class="n" cx="90.4" cy="-22.6" r="4.1"/></g>
<g id="r5p2-b1"><circle class="n" cx="22.6" cy="22.6" r="4.1"/></g>
<g id="r5p2-b2"><circle class="n" cx="45.2" cy="22.6" r="4.1"/></g>
<g id="r5p2-b3"><circle class="n" cx="67.8" cy="22.6" r="4.1"/></g>
<g id="r5p2-b4"><circle class="n" cx="90.4" cy="22.6" r="4.1"/></g>
</g>

<!-- Row 5 Panel 3 -->
<g id="r5p3" transform="translate(508,598.6)">
<g id="r5p3-connectors">
<path class="d" d="M-22.6,-22.6 A22.6,22.6 0 0 0 -22.6,22.6"/>
<path class="e" d="M-22.6,-22.6 L0,0 L-22.6,22.6 M0,0 L22.6,22.6"/>
<path class="d" d="M22.6,-22.6 V22.6"/>
<path class="dg" d="M0,0 L22.6,-22.6"/>
<path class="e" d="M22.6,-22.6 H45.2 M22.6,22.6 H45.2"/>
<path class="ds" d="M45.2,-22.6 H67.8 M45.2,22.6 H67.8"/>
<path class="e" d="M67.8,-22.6 H90.4 M67.8,22.6 H90.4"/>
</g>
<g id="r5p3-c"><circle class="n" cx="0" cy="0" r="4.1"/></g>
<g id="r5p3-tl"><circle class="n" cx="-22.6" cy="-22.6" r="4.1"/></g>
<g id="r5p3-bl"><circle class="n" cx="-22.6" cy="22.6" r="4.1"/></g>
<g id="r5p3-t1"><circle class="n" cx="22.6" cy="-22.6" r="4.1"/></g>
<g id="r5p3-t2"><circle class="n" cx="45.2" cy="-22.6" r="4.1"/></g>
<g id="r5p3-t3"><circle class="n" cx="67.8" cy="-22.6" r="4.1"/></g>
<g id="r5p3-t4"><circle class="n" cx="90.4" cy="-22.6" r="4.1"/></g>
<g id="r5p3-b1"><circle class="n" cx="22.6" cy="22.6" r="4.1"/></g>
<g id="r5p3-b2"><circle class="n" cx="45.2" cy="22.6" r="4.1"/></g>
<g id="r5p3-b3"><circle class="n" cx="67.8" cy="22.6" r="4.1"/></g>
<g id="r5p3-b4"><circle class="n" cx="90.4" cy="22.6" r="4.1"/></g>
</g>
</svg>
